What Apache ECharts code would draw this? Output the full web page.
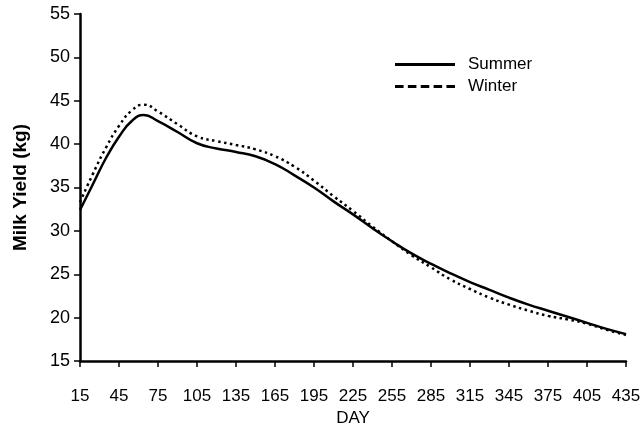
<!DOCTYPE html>
<html>
<head>
<meta charset="utf-8">
<script src="https://cdn.jsdelivr.net/npm/echarts@6/dist/echarts.min.js"></script>
<style>
html,body{margin:0;padding:0;background:#fff;}
#c{width:642px;height:428px;}
</style>
</head>
<body>
<div id="c"></div>
<script>
var days = [15, 25, 35, 45, 55, 64, 75, 90, 105, 120, 135, 150, 165, 180, 195, 210, 225, 240, 255, 270, 285, 300, 315, 330, 345, 360, 375, 390, 405, 420, 435];
var summer = [32.4, 35.4, 38.4, 40.85, 42.7, 43.35, 42.65, 41.4, 40.1, 39.5, 39.1, 38.6, 37.7, 36.4, 35.0, 33.4, 31.9, 30.3, 28.8, 27.4, 26.2, 25.1, 24.1, 23.2, 22.3, 21.5, 20.8, 20.1, 19.4, 18.7, 18.1];
var winter = [33.3, 36.6, 39.6, 42.1, 43.9, 44.55, 43.75, 42.3, 40.9, 40.35, 39.9, 39.4, 38.6, 37.4, 35.8, 34.0, 32.3, 30.5, 28.8, 27.2, 25.8, 24.4, 23.3, 22.3, 21.5, 20.8, 20.2, 19.8, 19.3, 18.6, 18.0];
var seriesNames = ['Summer', 'Winter'];
var xName = 'DAY';
var yName = 'Milk Yield (kg)';

function pairs(xs, ys) { return xs.map(function (x, i) { return [x, ys[i]]; }); }

var font = 'Liberation Sans, Arial, Helvetica, sans-serif';
var chart = echarts.init(document.getElementById('c'), null, {renderer: 'canvas'});
chart.setOption({
  animation: false,
  backgroundColor: '#fff',
  textStyle: {fontFamily: font, color: '#000'},
  grid: {left: 80, right: 16, top: 14, bottom: 67, containLabel: false, outerBoundsMode: 'none'},
  legend: {
    orient: 'vertical',
    left: 390,
    top: 51,
    itemWidth: 60,
    itemHeight: 14,
    itemGap: 5,
    textStyle: {fontSize: 17, color: '#000', fontFamily: font, padding: [0, 0, 0, 8]},
    data: [
      {name: seriesNames[0], icon: 'path://M0,0L60,0L60,3L0,3Z', itemStyle: {color: '#000'}},
      {name: seriesNames[1], icon: 'path://M0,0L8,0L8,3L0,3ZM12,0L20,0L20,3L12,3ZM24,0L32,0L32,3L24,3ZM36,0L44,0L44,3L36,3ZM48,0L56,0L56,3L48,3Z', itemStyle: {color: '#000'}}
    ]
  },
  xAxis: {
    type: 'value',
    min: 15,
    max: 435,
    interval: 30,
    name: xName,
    nameLocation: 'middle',
    nameGap: 49,
    nameTextStyle: {fontSize: 17, color: '#000', fontFamily: font},
    axisLine: {lineStyle: {color: '#000', width: 2.5}},
    axisTick: {show: true, length: 6, lineStyle: {color: '#000', width: 1.5}},
    axisLabel: {fontSize: 17, color: '#000', margin: 27, fontFamily: font},
    splitLine: {show: false}
  },
  yAxis: {
    type: 'value',
    min: 15,
    max: 55,
    interval: 5,
    name: yName,
    nameLocation: 'middle',
    nameGap: 50,
    nameTextStyle: {fontSize: 19, fontWeight: 'bold', color: '#000', fontFamily: font},
    axisLine: {lineStyle: {color: '#000', width: 2.5}},
    axisTick: {show: true, length: 6, lineStyle: {color: '#000', width: 1.5}},
    axisLabel: {fontSize: 18, color: '#000', margin: 10, fontFamily: font},
    splitLine: {show: false}
  },
  series: [
    {
      name: seriesNames[0],
      type: 'line',
      data: pairs(days, summer),
      smooth: 0.5,
      showSymbol: false,
      symbol: 'none',
      lineStyle: {color: '#000', width: 2.5, type: 'solid'},
      itemStyle: {color: '#000'}
    },
    {
      name: seriesNames[1],
      type: 'line',
      data: pairs(days, winter),
      smooth: 0.5,
      showSymbol: false,
      symbol: 'none',
      lineStyle: {color: '#000', width: 2.5, type: [2.5, 3.5]},
      itemStyle: {color: '#000'}
    }
  ]
});
</script>
</body>
</html>
